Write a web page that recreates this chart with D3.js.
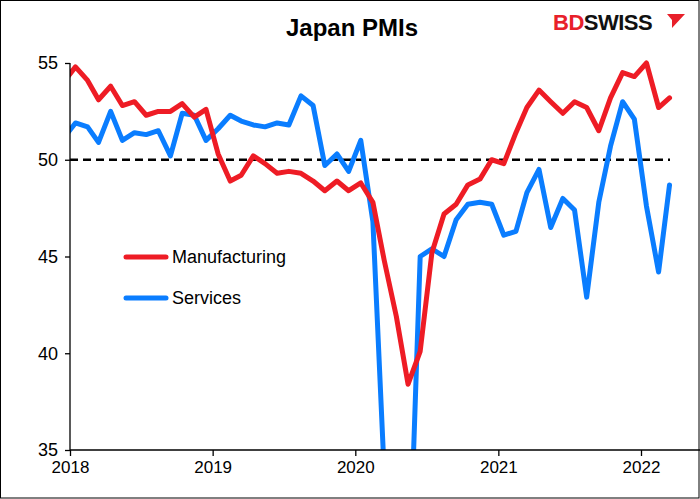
<!DOCTYPE html>
<html><head><meta charset="utf-8">
<script src="https://cdn.jsdelivr.net/npm/d3@7"></script>
<style>body{margin:0;background:#fff}svg{display:block;font-family:Arial,"Liberation Sans",sans-serif}</style>
</head><body><svg id="c" width="700" height="499"></svg>
<script>
const startMonth = "2017-12"; // first value, monthly
const manufacturing = [54.0,54.8,54.1,53.1,53.8,52.8,53.0,52.3,52.5,52.5,52.9,52.2,52.6,
 50.3,48.9,49.2,50.2,49.8,49.3,49.4,49.3,48.9,48.4,48.9,48.4,
 48.8,47.8,44.8,41.9,38.4,40.1,45.2,47.2,47.7,48.7,49.0,50.0,
 49.8,51.4,52.7,53.6,53.0,52.4,53.0,52.7,51.5,53.2,54.5,54.3,
 55.0,52.7,53.2];
const services = [51.1,51.9,51.7,50.9,52.5,51.0,51.4,51.3,51.5,50.2,52.4,52.3,51.0,
 51.6,52.3,52.0,51.8,51.7,51.9,51.8,53.3,52.8,49.7,50.3,49.4,
 51.0,46.8,33.8,21.5,26.5,45.0,45.4,45.0,46.9,47.7,47.8,47.7,
 46.1,46.3,48.3,49.5,46.5,48.0,47.4,42.9,47.8,50.7,53.0,52.1,
 47.6,44.2,48.7];
const yTicks = [35,40,45,50,55];
const xTicks = ["2018","2019","2020","2021","2022"];
const svg = d3.select("#c");
svg.append("rect").attr("x",0.5).attr("y",0.5).attr("width",698.5).attr("height",497.5).attr("fill","#fff").attr("stroke","#000");
const x = d3.scaleTime().domain([new Date(2018,0,1), new Date(2022,0,1)]).range([70,641]);
const y = d3.scaleLinear().domain([35,55]).range([450,63]);
const dates = manufacturing.map((_,i)=>new Date(2017,11+i,15));
const defs = svg.append("defs");
defs.append("clipPath").attr("id","clip").append("rect").attr("x",70).attr("y",40).attr("width",630).attr("height",410);
const g = svg.append("g").attr("clip-path","url(#clip)");
g.append("line").attr("x1",70).attr("x2",670).attr("y1",y(50)).attr("y2",y(50)).attr("stroke","#000").attr("stroke-width",2.5).attr("stroke-dasharray","8,5");
const line = d3.line().x((d,i)=>x(dates[i])).y(d=>y(d));
g.append("path").datum(services).attr("d",line).attr("fill","none").attr("stroke","#0a7dff").attr("stroke-width",5).attr("stroke-linejoin","round").attr("stroke-linecap","round");
g.append("path").datum(manufacturing).attr("d",line).attr("fill","none").attr("stroke","#ee1c25").attr("stroke-width",5).attr("stroke-linejoin","round").attr("stroke-linecap","round");
// axes
const ya = svg.append("g").attr("transform","translate(70,0)").call(d3.axisLeft(y).tickValues(yTicks).tickSize(5).tickSizeOuter(0));
ya.select(".domain").attr("d","M0,450V63");
ya.selectAll("text").attr("font-size",18).attr("fill","#000").attr("dx",-4);
const xa = svg.append("g").attr("transform","translate(0,450)").call(d3.axisBottom(x).tickValues(xTicks.map(t=>new Date(+t,0,1))).tickFormat(d3.timeFormat("%Y")).tickSize(6).tickSizeOuter(0));
xa.select(".domain").attr("d","M70,0H700");
xa.selectAll("text").attr("font-size",17).attr("fill","#000").attr("dy","0.85em");
svg.selectAll(".domain,.tick line").attr("stroke","#000").attr("stroke-width",1.3);
// title
svg.append("text").attr("x",352).attr("y",36).attr("text-anchor","middle").attr("font-size",24).attr("font-weight","bold").text("Japan PMIs");
// logo
const logo = svg.append("text").attr("x",553).attr("y",30).attr("font-size",22).attr("font-weight","bold").attr("letter-spacing",-0.5);
logo.append("tspan").attr("fill","#e8202a").text("BD");
logo.append("tspan").attr("fill","#111").text("SWISS");
svg.append("path").attr("d","M667,14 L685,14 L672,28 L672,20 Z").attr("fill","#e8202a");
// legend
const leg = [["Manufacturing","#ee1c25",257],["Services","#0a7dff",298]];
leg.forEach(([t,c,yy])=>{
 svg.append("line").attr("x1",126).attr("x2",166).attr("y1",yy).attr("y2",yy).attr("stroke",c).attr("stroke-width",5).attr("stroke-linecap","round");
 svg.append("text").attr("x",172).attr("y",yy+6).attr("font-size",18).text(t);
});
</script></body></html>
